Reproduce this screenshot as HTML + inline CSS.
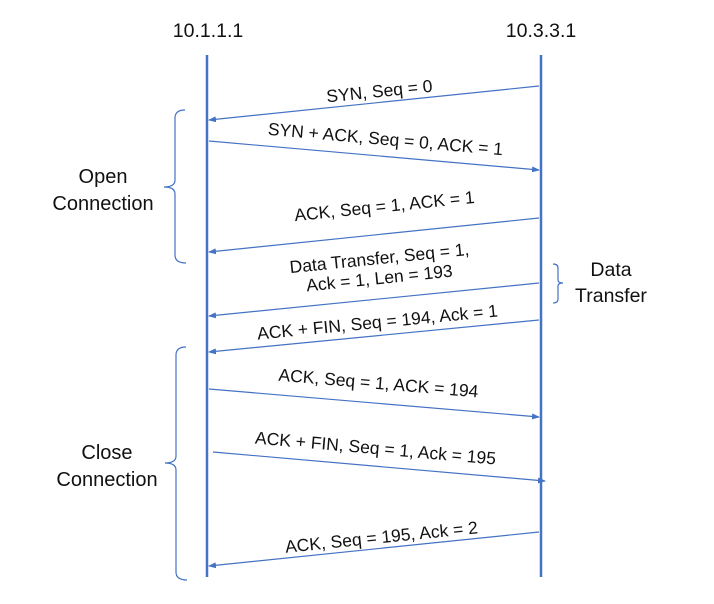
<!DOCTYPE html>
<html><head><style>
html,body{margin:0;padding:0;background:#fff;}
svg{display:block;}
text{font-family:"Liberation Sans",sans-serif;fill:#111;}
</style></head><body>
<svg width="714" height="604" viewBox="0 0 714 604">
<defs>
<marker id="a" markerWidth="8" markerHeight="6" refX="7" refY="3" orient="auto" markerUnits="userSpaceOnUse">
<path d="M0,0 L8,3 L0,6 z" fill="#4472C4"/></marker>
</defs>
<g stroke="#4472C4" fill="none">
<line x1="207" y1="55" x2="207" y2="577" stroke-width="2.5"/>
<line x1="541" y1="55" x2="541" y2="577" stroke-width="2.5"/>
<g stroke-width="1.2">
<line x1="539" y1="86" x2="209" y2="120" marker-end="url(#a)"/>
<line x1="209" y1="141" x2="539" y2="170" marker-end="url(#a)"/>
<line x1="539" y1="218" x2="209" y2="252" marker-end="url(#a)"/>
<line x1="539" y1="283" x2="209" y2="316" marker-end="url(#a)"/>
<line x1="539" y1="320" x2="209" y2="352" marker-end="url(#a)"/>
<line x1="209" y1="389" x2="539" y2="417" marker-end="url(#a)"/>
<line x1="213" y1="452" x2="545" y2="481" marker-end="url(#a)"/>
<line x1="539" y1="532" x2="209" y2="566" marker-end="url(#a)"/>
<path d="M185,110 Q175,110 175,118 L175,180 Q175,187 164,187 Q175,187 175,194 L175,255 Q175,263 186,263"/>
<path d="M186,347 Q176,347 176,355 L176,456 Q176,463 165,463 Q176,463 176,470 L176,572 Q176,580 187,580"/>
<path d="M553,264 Q558,264 558,268 L558,280 Q558,283 563,283 Q558,283 558,286 L558,299 Q558,303 553,303"/>
</g>
</g>
<g font-size="19.5" text-anchor="middle">
<text x="208" y="37">10.1.1.1</text>
<text x="541" y="37">10.3.3.1</text>
<text x="611" y="276">Data</text>
<text x="611" y="302">Transfer</text>
</g>
<g font-size="20" text-anchor="middle">
<text x="103" y="183">Open</text>
<text x="103" y="210">Connection</text>
<text x="107" y="459">Close</text>
<text x="107" y="486">Connection</text>
</g>
<g font-size="17.5" text-anchor="middle">
<text transform="translate(380,97) rotate(-5.8)">SYN, Seq = 0</text>
<text transform="translate(385,145) rotate(5)">SYN + ACK, Seq = 0, ACK = 1</text>
<text transform="translate(385,212) rotate(-5.8)">ACK, Seq = 1, ACK = 1</text>
<text transform="translate(380,264) rotate(-5.8)">Data Transfer, Seq = 1,</text>
<text transform="translate(380,284) rotate(-5.8)">Ack = 1, Len = 193</text>
<text transform="translate(378,328) rotate(-5.5)">ACK + FIN, Seq = 194, Ack = 1</text>
<text transform="translate(378,389) rotate(4.8)">ACK, Seq = 1, ACK = 194</text>
<text transform="translate(375,454) rotate(5)">ACK + FIN, Seq = 1, Ack = 195</text>
<text transform="translate(382,543) rotate(-5.8)">ACK, Seq = 195, Ack = 2</text>
</g>
</svg>
</body></html>
